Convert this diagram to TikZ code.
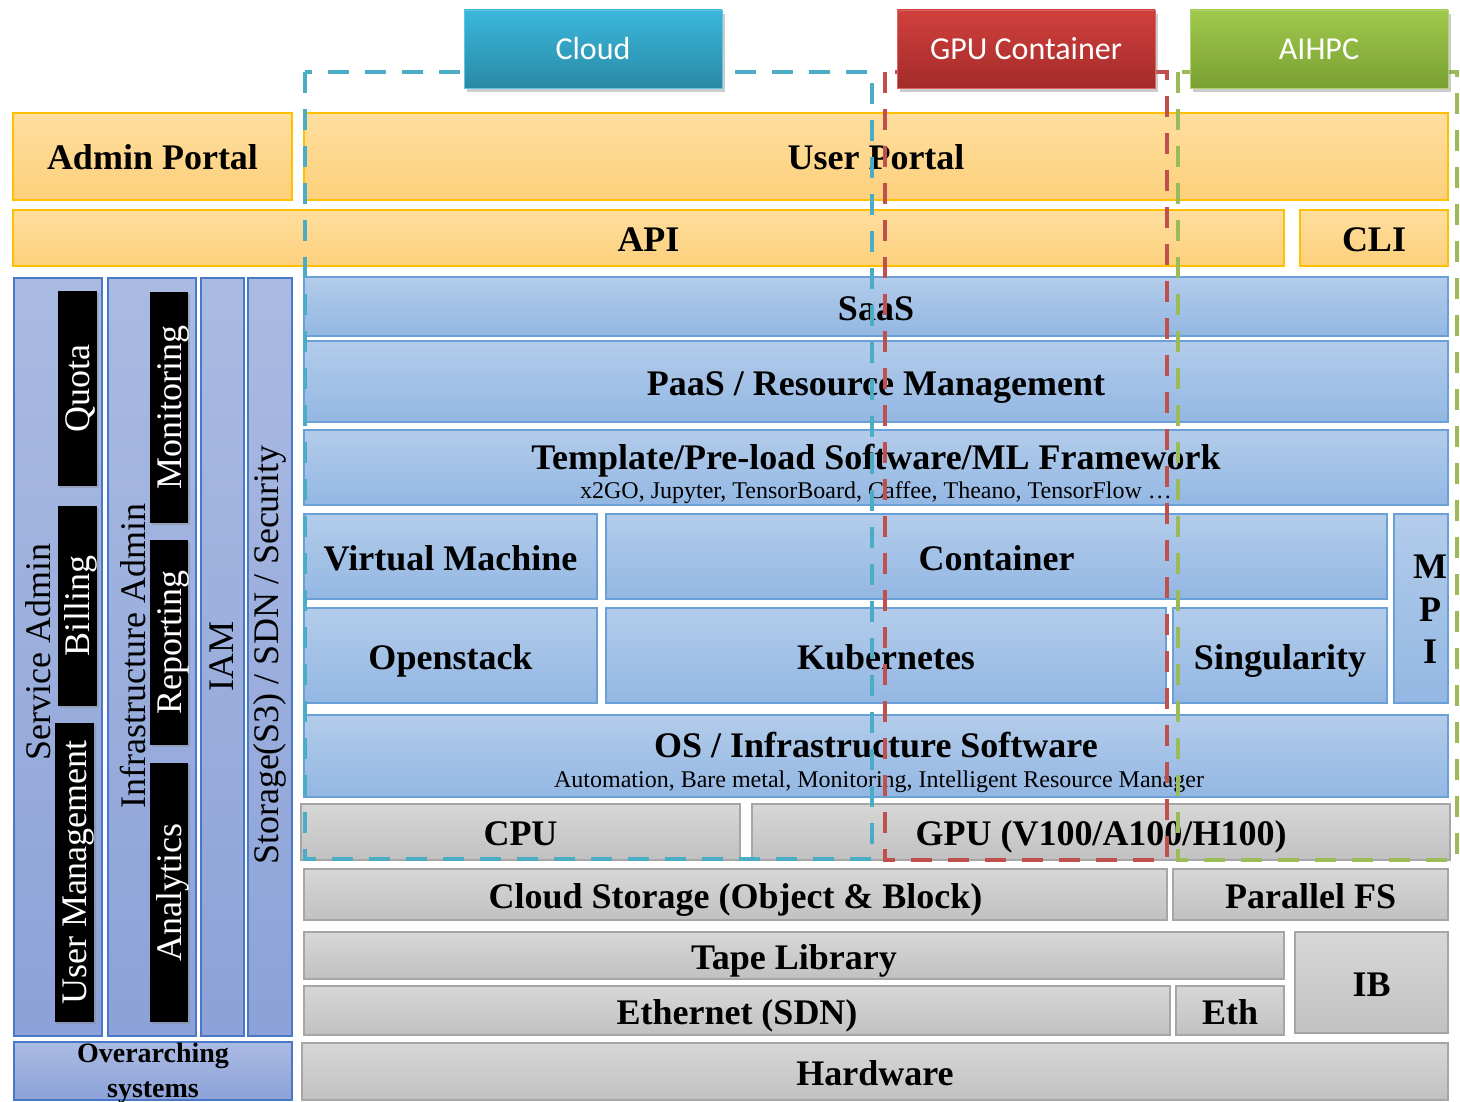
\documentclass[tikz,border=0pt]{standalone}
\usepackage{fontspec}
\setmainfont{Liberation Serif}
\newfontfamily\hdrfont{Carlito}
\usetikzlibrary{shadows}
\newcommand\fsz[1]{\fontsize{#1}{#1}\selectfont}
\newcommand\boxat[7]{\node[#2, anchor=north west, minimum width={(#5-#3)*1pt}, minimum height={(#6-#4)*1pt}] (#1) at (#3,#4) {#7};}
\definecolor{orgtop}{HTML}{FEDE9E}
\definecolor{orgbot}{HTML}{FDD07C}
\definecolor{orgline}{HTML}{FFC000}
\definecolor{blutop}{HTML}{B3CCEA}
\definecolor{blubot}{HTML}{93B7E3}
\definecolor{bluline}{HTML}{6A9FD8}
\definecolor{grytop}{HTML}{D7D7D7}
\definecolor{grybot}{HTML}{C1C1C1}
\definecolor{gryline}{HTML}{A6A6A6}
\definecolor{lavtop}{HTML}{AABBE2}
\definecolor{lavbot}{HTML}{8CA2D8}
\definecolor{lavline}{HTML}{4A78C8}
\definecolor{cldtop}{HTML}{3AB7DB}
\definecolor{cldbot}{HTML}{2A8AA6}
\definecolor{gputop}{HTML}{D1403D}
\definecolor{gpubot}{HTML}{A32B29}
\definecolor{aitop}{HTML}{9FC94C}
\definecolor{aibot}{HTML}{7AA033}
\definecolor{dashblue}{HTML}{4BACC6}
\definecolor{dashred}{HTML}{C0504D}
\definecolor{dashgreen}{HTML}{9BBB59}
\begin{document}
\begin{tikzpicture}[x=1pt,y=-1pt,
  basebox/.style={inner sep=0pt, outer sep=0pt, line width=1.3pt, align=center},
  capfont/.style={font={\bfseries\fsz{36}}, text height=27pt, text depth=0pt},
  orangebox/.style={basebox, draw=orgline, top color=orgtop, bottom color=orgbot, capfont},
  bluebox/.style={basebox, draw=bluline, top color=blutop, bottom color=blubot, capfont},
  graybox/.style={basebox, draw=gryline, top color=grytop, bottom color=grybot, capfont},
  lavbox/.style={basebox, draw=lavline, top color=lavtop, bottom color=lavbot},
  blackbox/.style={inner sep=0pt, outer sep=0pt, fill=black, rotate=90, text=white, font={\fsz{36}},
     text height=24pt, text depth=0pt,
     drop shadow={shadow xshift=2pt, shadow yshift=-2pt, opacity=0.35}},
  sidelabel/.style={rotate=90, inner sep=0pt, font={\fsz{36}}},
  hdrbox/.style={inner sep=0pt, outer sep=0pt, line width=0.8pt, text=white, font={\hdrfont\fsz{32}},
     drop shadow={shadow xshift=3pt, shadow yshift=-4pt, opacity=0.4}},
  subtxt/.style={inner sep=0pt, font={\fsz{24}}, text height=16pt, text depth=0pt},
  titletxt/.style={inner sep=0pt, capfont},
  region/.style={line width=4.5pt, dash pattern=on 21pt off 16pt}
]
\useasboundingbox (0,0) rectangle (1460,1102);
\fill[white] (0,0) rectangle (1460,1102);

% top orange rows
\boxat{admin}{orangebox}{13}{113}{292}{200}{Admin Portal}
\boxat{user}{orangebox}{304}{113}{1448}{200}{User Portal}
\boxat{api}{orangebox}{13}{210}{1284}{266}{API}
\boxat{cli}{orangebox}{1300}{210}{1448}{266}{CLI}

% left columns
\boxat{svc}{lavbox}{14}{278}{102}{1036}{}
\boxat{infra}{lavbox}{108}{278}{196}{1036}{}
\boxat{iam}{lavbox}{201}{278}{244}{1036}{}
\boxat{stor}{lavbox}{248}{278}{292}{1036}{}
\boxat{over}{lavbox}{14}{1042}{292}{1100}{}
\node[inner sep=0pt, align=center, font={\bfseries\fontsize{28}{35}\selectfont}] (overtxt) at (153,1073) {Overarching\\systems};

\node[sidelabel] (svctxt) at (38,652) {Service Admin};
\node[sidelabel] (infratxt) at (133,656) {Infrastructure Admin};
\node[sidelabel] (iamtxt) at (222,656) {IAM};
\node[sidelabel] (stortxt) at (270,655) {Storage(S3) / SDN / Security};

\node[blackbox, minimum width=195pt, minimum height=39pt] (quota) at (77.5,388.5) {Quota};
\node[blackbox, minimum width=200pt, minimum height=39pt] (billing) at (77.5,606) {Billing};
\node[blackbox, minimum width=299pt, minimum height=39pt] (usermgmt) at (74.5,872.5) {User Management};
\node[blackbox, minimum width=231pt, minimum height=38pt] (monit) at (169,407.5) {Monitoring};
\node[blackbox, minimum width=205pt, minimum height=38pt] (report) at (169,642.5) {Reporting};
\node[blackbox, minimum width=259pt, minimum height=38pt] (analyt) at (169,892.5) {Analytics};

% blue stack
\boxat{saas}{bluebox}{304}{277}{1448}{336}{SaaS}
\boxat{paas}{bluebox}{304}{341}{1448}{422}{PaaS / Resource Management}
\boxat{tmpl}{bluebox}{304}{430}{1448}{505}{}
\node[titletxt] (tmplt) at (876,456) {Template/Pre-load Software/ML Framework};
\node[subtxt] (tmpls) at (876,490) {x2GO, Jupyter, TensorBoard, Caffee, Theano, TensorFlow …};
\boxat{vm}{bluebox}{304}{514}{597}{599}{Virtual Machine}
\boxat{cont}{bluebox}{606}{514}{1387}{599}{Container}
\boxat{mpi}{bluebox}{1394}{514}{1448}{703}{}
\node[inner sep=0pt, align=center, font={\bfseries\fontsize{36}{42.5}\selectfont}] (mpitxt) at (1430,609.5) {M\\P\\I};
\boxat{ostack}{bluebox}{304}{608}{597}{703}{Openstack}
\boxat{k8s}{bluebox}{606}{608}{1166}{703}{Kubernetes}
\boxat{sing}{bluebox}{1173}{608}{1387}{703}{Singularity}
\boxat{os}{bluebox}{304}{715}{1448}{797}{}
\node[titletxt] (ost) at (876,744) {OS / Infrastructure Software};
\node[subtxt] (oss) at (879,779) {Automation, Bare metal, Monitoring, Intelligent Resource Manager};

% gray hardware
\boxat{cpu}{graybox}{301}{804}{740}{860}{CPU}
\boxat{gpu}{graybox}{752}{804}{1450}{860}{GPU (V100/A100/H100)}
\boxat{cstor}{graybox}{304}{869}{1167}{920}{Cloud Storage (Object \& Block)}
\boxat{pfs}{graybox}{1173}{869}{1448}{920}{Parallel FS}
\boxat{tape}{graybox}{304}{932}{1284}{979}{Tape Library}
\boxat{ib}{graybox}{1295}{932}{1448}{1033}{IB}
\boxat{eth}{graybox}{304}{986}{1170}{1035}{Ethernet (SDN)}
\boxat{eth2}{graybox}{1176}{986}{1284}{1035}{Eth}
\boxat{hw}{graybox}{302}{1043}{1448}{1100}{Hardware}

% dashed regions
\draw[region, dashblue] (305,72) rectangle (872,859);
\draw[region, dashred] (885,72) rectangle (1167,860);
\draw[region, dashgreen] (1178,72) rectangle (1457,860);

% header boxes
\boxat{cloud}{hdrbox, draw=cldtop!80!white, top color=cldtop, bottom color=cldbot}{464}{10}{722}{88}{Cloud}
\boxat{gpuc}{hdrbox, draw=gputop!80!white, top color=gputop, bottom color=gpubot}{897}{10}{1155}{88}{GPU Container}
\boxat{aihpc}{hdrbox, draw=aitop!80!white, top color=aitop, bottom color=aibot}{1190}{10}{1448}{88}{AIHPC}
\end{tikzpicture}
\end{document}
